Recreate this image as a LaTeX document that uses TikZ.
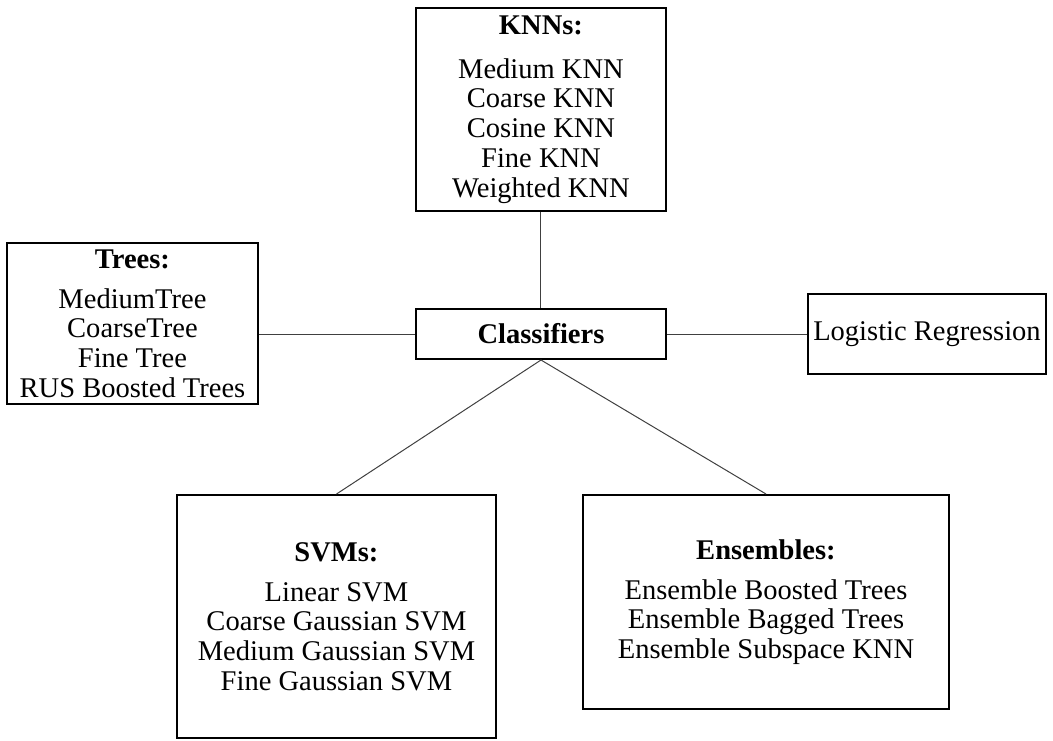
\documentclass[tikz,border=0pt]{standalone}
\usepackage{fontspec}
\setmainfont{Liberation Serif}
\usetikzlibrary{positioning}
\tikzset{
  group/.style={draw=black, line width=1.5pt, align=center, inner sep=0pt,
    font=\fontsize{21.4}{22.3}\selectfont},
  link/.style={draw=black!75, line width=0.75pt},
}
\begin{document}
\begin{tikzpicture}[on grid]
  \node[group, minimum width=187.5pt, minimum height=37.5pt] (cls) {\textbf{Classifiers}};
  \node[group, minimum width=187.5pt, minimum height=152.25pt] (knn) [above=168.4pt of cls]
    {\textbf{KNNs:}\\[10.5pt] Medium KNN\\ Coarse KNN\\ Cosine KNN\\ Fine KNN\\ Weighted KNN};
  \node[group, minimum width=188.25pt, minimum height=120.75pt] (trees) [above left=7.85pt and 306.4pt of cls]
    {\textbf{Trees:}\\[7.7pt] MediumTree\\ CoarseTree\\ Fine Tree\\ RUS Boosted Trees};
  \node[group, minimum width=178.5pt, minimum height=60pt] (lr) [right=289.5pt of cls]
    {Logistic Regression};
  \node[group, minimum width=239.25pt, minimum height=182.25pt] (svm) [below left=211.9pt and 153.4pt of cls]
    {\textbf{SVMs:}\\[7.7pt] Linear SVM\\ Coarse Gaussian SVM\\ Medium Gaussian SVM\\ Fine Gaussian SVM};
  \node[group, minimum width=274.5pt, minimum height=160.5pt] (ens) [below right=201pt and 168.75pt of cls]
    {\textbf{Ensembles:}\\[7.7pt] Ensemble Boosted Trees\\ Ensemble Bagged Trees\\ Ensemble Subspace KNN};

  \path[link]
    (knn) edge (cls)
    (trees.east |- cls) edge (cls)
    (cls) edge (lr)
    (cls.south) edge (svm.north)
    (cls.south) edge (ens.north);

  \useasboundingbox (-405.75pt,250.5pt) rectangle (384pt,-304.5pt);
\end{tikzpicture}
\end{document}
